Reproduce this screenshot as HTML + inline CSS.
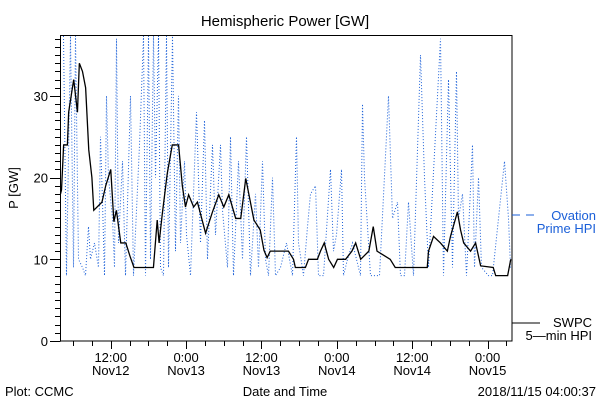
<!DOCTYPE html>
<html><head><meta charset="utf-8"><style>
body{margin:0;background:#fff}
svg text{font-family:"Liberation Sans",sans-serif;font-size:13px}
</style></head><body>
<svg width="600" height="400" viewBox="0 0 600 400" xmlns="http://www.w3.org/2000/svg">
<text x="285" y="26" text-anchor="middle" style="font-size:15px">Hemispheric Power [GW]</text>
<text transform="translate(18,188) rotate(-90)" text-anchor="middle">P [GW]</text>
<rect x="60.5" y="35.5" width="451.5" height="305.5" fill="none" stroke="#000"/>
<g id="ovation"></g>
<g id="swpc"></g>
<g id="axes"></g>
<line x1="512" y1="215" x2="540" y2="215" stroke="#1a5fd8" stroke-dasharray="8,6"/>
<text x="596" y="220" text-anchor="end" fill="#1a5fd8">Ovation</text>
<text x="596" y="233" text-anchor="end" fill="#1a5fd8">Prime HPI</text>
<line x1="512" y1="323" x2="540" y2="323" stroke="#000"/>
<text x="592" y="327" text-anchor="end">SWPC</text>
<text x="592" y="340" text-anchor="end">5—min HPI</text>
<text x="5" y="396">Plot: CCMC</text>
<text x="285" y="396" text-anchor="middle">Date and Time</text>
<text x="596" y="396" text-anchor="end">2018/11/15 04:00:37</text>
</svg>
<script>
// hours since 2018-11-12 04:00
const swpcHours=[0,0.16,0.5,1.1,1.3,2.1,2.7,3.0,3.5,4.0,4.5,5.0,5.3,6.6,7.2,8.0,8.5,8.9,9.6,10.4,11.1,11.7,12.4,14.8,15.4,15.7,16.2,17.0,17.8,18.8,19.4,19.9,20.4,21.2,21.8,23.1,24.2,25.2,26.0,26.8,27.9,28.7,29.5,30.8,31.8,32.4,32.9,33.4,36.3,37.1,37.4,39.0,39.5,40.9,41.4,42.0,42.7,43.5,44.1,45.4,46.4,47.0,47.8,49.1,49.8,50.4,52.5,53.3,58.4,58.6,59.4,60.5,61.6,62.1,63.2,63.7,64.2,65.3,66.1,66.9,68.9,69.3,71.2,71.7];
const swpcValues=[18,18.5,24,24,28,32,28,34,33,31,23.4,20,16,17,19,21,14.6,16,12,12,10.3,9,9,9,14.8,12,15.5,20.5,24,24,19,16.4,17.9,16.4,17,13.2,15.8,17.9,16.4,17.9,15,15,19.9,14.8,13.6,11.1,10.2,11,11,10,9,9,10,10,11,12,10,9,10,10,11,12,10,11,14,11,10,9,9,11,12.8,12,11,12.8,15.8,13.6,12,11,12,9.2,9,8,8,10];
const ovX=[63,66,70,73,75,78,82,85,88,90,94,98,100,102,104,106,108,112,114,116,118,122,125,130,133,139,143,145,148,150,153,155,158,160,163,166,168,172,175,178,180,184,186,190,196,200,204,207,212,215,220,222,227,230,233,238,242,246,250,255,258,262,265,268,272,275,280,286,292,296,298,303,307,310,315,318,323,330,333,336,341,343,347,352,360,362,364,370,372,379,388,392,397,400,404,408,413,420,424,428,440,443,448,452,456,458,462,466,472,474,478,481,488,492,504,508,510];
const ovValues=[38,8,38,9,38,10,9,8,14,10,12,9,25,17,8,30,20,15,9,37,12,22,8,30,8,24,38,8,38,10,38,20,38,9,8,38,9,38,11,30,12,22,13,8,28,12,27,10,24,13,24,16,9,25,8,22,10,25,8,18,9,22,10,8,20,8,9,12,8,25,12,8,14,18,19,8,8,21,11,13,21,8,10,12,8,29,20,8,8,8,30,15,17,8,8,17,8,35,20,9,37,8,32,9,33,15,18,8,24,9,20,9,8,8,22,15,9];
const yTicks=[0,10,20,30];
const xTickLabels=["12:00","0:00","12:00","0:00","12:00","0:00"];
const xTickDates=["Nov12","Nov13","Nov13","Nov14","Nov14","Nov15"];
const xTickHours=[8,20,32,44,56,68];

const NS="http://www.w3.org/2000/svg";
const X0=60.5,PXH=6.28;
const xs=h=>X0+h*PXH;
const ys=v=>Math.max(36,341-v*8.17);
function mk(t,a,p){const e=document.createElementNS(NS,t);for(const k in a)e.setAttribute(k,a[k]);p.appendChild(e);return e;}
let d="M"+xs(swpcHours[0])+","+ys(swpcValues[0]);
for(let i=1;i<swpcHours.length;i++){d+=" L"+xs(swpcHours[i])+","+ys(swpcValues[i]);}
const sp=mk("path",{d:d,fill:"none",stroke:"#000","stroke-width":"1.3"},document.getElementById("swpc"));


const ovHours=ovX.map(x=>(x-60)/6.28);
let d2="";
ovHours.forEach((h,i)=>{d2+=(i?" L":"M")+xs(h)+","+ys(ovValues[i]);});
const op=mk("path",{d:d2,fill:"none",stroke:"#1a5fd8","stroke-width":"1","stroke-dasharray":"1,2"},document.getElementById("ovation"));


const ax=document.getElementById("axes");
for(let v=0;v<=37;v++){
  const y=Math.round(341-v*8.17)+0.5;const maj=v%10===0;
  const t=mk("line",{x1:maj?50:55,x2:60.5,y1:y,y2:y,stroke:"#000"},ax);
  
  
}
yTicks.forEach(v=>{
  const t=mk("text",{x:48,y:341-v*8.17+5,"text-anchor":"end"},ax);t.textContent=v;
  
  
});
for(let h=-1;h<=72;h+=3){
  const x=Math.round(xs(h))+0.5;if(x<61||x>511)continue;const maj=(h-8)%12===0;
  const t=mk("line",{x1:x,x2:x,y1:341,y2:maj?349:346,stroke:"#000"},ax);
  
  
}
xTickHours.forEach((h,i)=>{
  const a=mk("text",{x:xs(h),y:362,"text-anchor":"middle"},ax);a.textContent=xTickLabels[i];
  
  
  const b=mk("text",{x:xs(h),y:375,"text-anchor":"middle"},ax);b.textContent=xTickDates[i];
  
  
});
</script>
</body></html>
